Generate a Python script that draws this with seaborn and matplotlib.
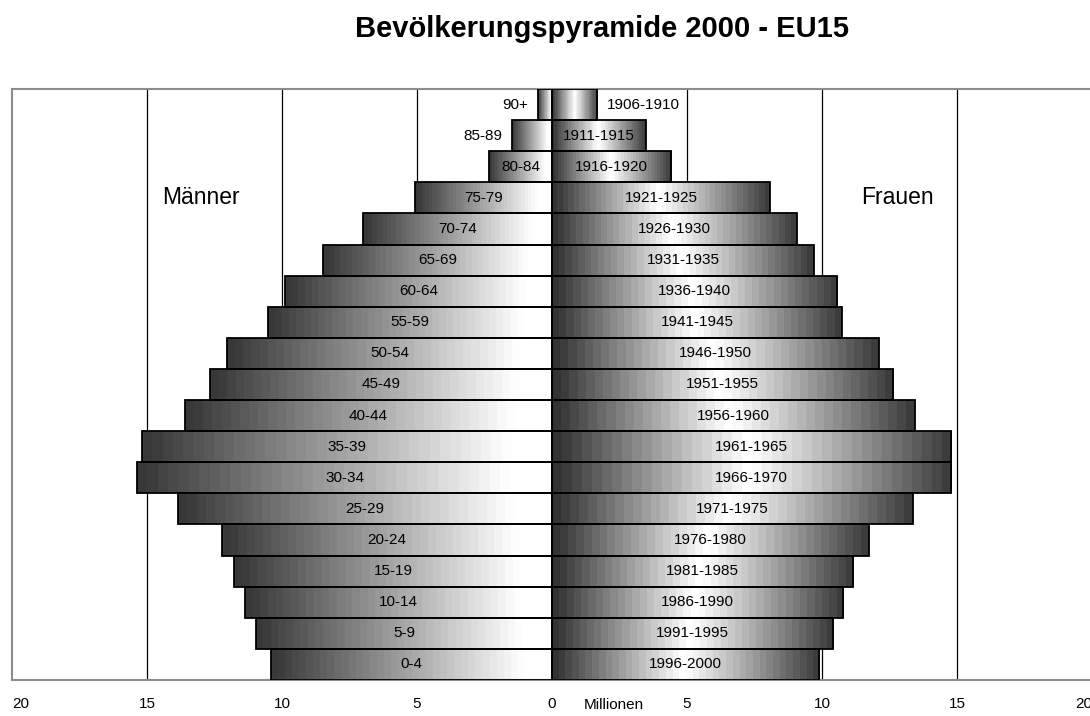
import numpy as np
import pandas as pd
import matplotlib.pyplot as plt
import seaborn as sns

# Altersgruppen (oben -> unten) und Jahrgaenge
ages = ['90+', '85-89', '80-84', '75-79', '70-74', '65-69', '60-64', '55-59',
        '50-54', '45-49', '40-44', '35-39', '30-34', '25-29', '20-24', '15-19',
        '10-14', '5-9', '0-4']
births = ['1906-1910', '1911-1915', '1916-1920', '1921-1925', '1926-1930',
          '1931-1935', '1936-1940', '1941-1945', '1946-1950', '1951-1955',
          '1956-1960', '1961-1965', '1966-1970', '1971-1975', '1976-1980',
          '1981-1985', '1986-1990', '1991-1995', '1996-2000']

# Millionen
men = [0.52, 1.48, 2.33, 5.07, 7.0, 8.48, 9.89, 10.52, 12.04, 12.67, 13.59,
       15.19, 15.37, 13.85, 12.22, 11.78, 11.37, 10.96, 10.41]
women = [1.67, 3.48, 4.41, 8.07, 9.07, 9.70, 10.56, 10.74, 12.11, 12.63, 13.44,
         14.78, 14.78, 13.37, 11.74, 11.15, 10.78, 10.41, 9.89]

ticks = [-20, -15, -10, -5, 0, 5, 10, 15, 20]
tick_labels = ['20', '15', '10', '5', '0', '5', '10', '15', '20']
grid_lines = [-15, -10, -5, 5, 10, 15]

sns.set_theme(style='white')
plt.rcParams['font.family'] = ['Liberation Sans', 'DejaVu Sans']

df = pd.DataFrame({'Alter': ages, 'Jahrgang': births, 'Männer': men, 'Frauen': women})
df['links'] = -df['Männer']

fig = plt.figure(figsize=(10.9, 7.16), dpi=100)
ax = fig.add_axes([12 / 1090, 36 / 716, 1080 / 1090, 591 / 716])

# Balken
sns.barplot(data=df, x='links', y='Alter', orient='h', width=1.0, color='white',
            edgecolor='black', linewidth=1.3, ax=ax, zorder=3)
sns.barplot(data=df, x='Frauen', y='Alter', orient='h', width=1.0, color='white',
            edgecolor='black', linewidth=1.3, ax=ax, zorder=3)

# Farbverlauf in den Balken
men_grad = np.clip(np.linspace(0.22, 1.08, 40), 0, 1)
women_grad = np.concatenate([np.linspace(0.2, 1.0, 20), np.linspace(0.98, 0.24, 20)])
for p in list(ax.patches):
    x0, w = p.get_x(), p.get_width()
    y0, h = p.get_y(), p.get_height()
    grad = men_grad if w < 0 else women_grad
    xmin, xmax = min(x0, x0 + w), max(x0, x0 + w)
    im = ax.imshow(grad[np.newaxis, :], cmap='gray', vmin=0, vmax=1, aspect='auto',
                   interpolation='nearest', extent=(xmin, xmax, y0 + h, y0), zorder=2)
    im.set_clip_path(p)
    p.set_facecolor('none')

# Beschriftungen der Balken
for i, row in df.iterrows():
    v = row['Männer']
    if v < 2.0:
        ax.text(-v - 0.37, i, row['Alter'], ha='right', va='center', fontsize=11, color='black', zorder=4)
    else:
        ax.text(-v / 2, i, row['Alter'], ha='center', va='center', fontsize=11, color='black', zorder=4)
    v = row['Frauen']
    if v < 3.0:
        ax.text(v + 0.37, i, row['Jahrgang'], ha='left', va='center', fontsize=11, color='black', zorder=4)
    else:
        ax.text(v / 2, i, row['Jahrgang'], ha='center', va='center', fontsize=11, color='black', zorder=4)

for g in grid_lines:
    ax.axvline(g, color='black', lw=0.9, zorder=1)

ax.set_xlim(-20, 20)
ax.set_ylim(len(ages) - 0.5, -0.5)
ax.set_xticks(ticks)
ax.set_xticklabels(tick_labels)
ax.tick_params(axis='x', length=0, pad=12, labelsize=11, labelcolor='black')
ax.set_yticks([])
ax.set(xlabel='', ylabel='')
lbls = ax.get_xticklabels()
lbls[0].set_horizontalalignment('left')
lbls[-1].set_horizontalalignment('right')

for s in ['top', 'left', 'bottom']:
    ax.spines[s].set_color('#8c8c8c')
    ax.spines[s].set_linewidth(1.5)
ax.spines['right'].set_visible(False)

ax.text(2.3, -0.042, 'Millionen', transform=ax.get_xaxis_transform(),
        ha='center', va='center', fontsize=11, color='black')
ax.text(-13.0, 3.0, 'Männer', ha='center', va='center', fontsize=16.5, color='black')
ax.text(12.8, 3.0, 'Frauen', ha='center', va='center', fontsize=16.5, color='black')

fig.text(602 / 1090, 1 - 29 / 716, 'Bevölkerungspyramide 2000 - EU15', ha='center',
         va='center', fontsize=21, fontweight='bold', color='black')

fig.savefig('out.png', dpi=100)
